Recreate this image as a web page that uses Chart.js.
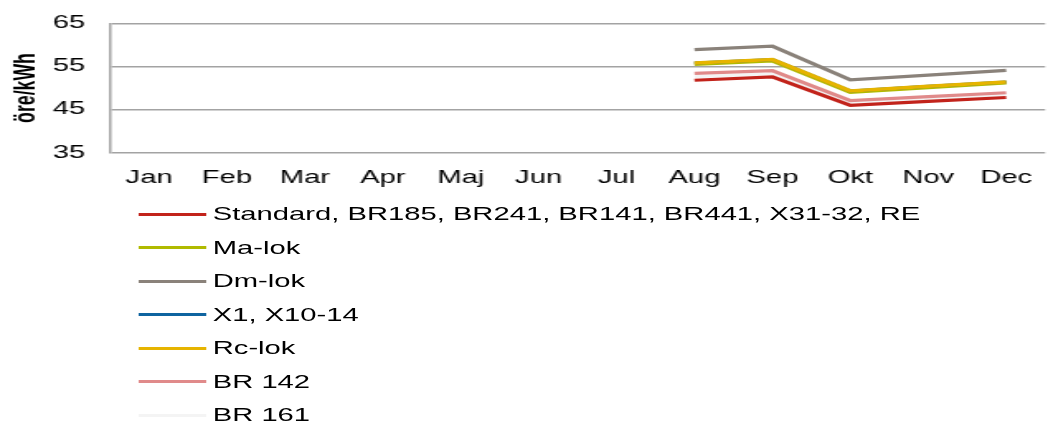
<!DOCTYPE html>
<html>
<head>
<meta charset="utf-8">
<script src="https://cdn.jsdelivr.net/npm/chart.js@4"></script>
<style>
  body { margin: 0; background: #fff; overflow: hidden; }
  /* the original picture is stretched sideways, so draw narrow and stretch */
  #wrap { width: 635px; height: 426px; transform: scaleX(1.6504); transform-origin: 0 0; }
  #box { position: relative; width: 635px; height: 195px; }
  #legend { font-family: "Liberation Sans", Arial, sans-serif; font-size: 17.7px; color: #000; }
  .item { position: absolute; left: 0; height: 20px; }
  .swatch { position: absolute; left: 84.4px; width: 40.9px; height: 3px; }
  .lbl { position: absolute; left: 128.9px; top: -11px; white-space: nowrap; line-height: 22px; }
</style>
</head>
<body>
<div id="wrap">
  <div id="box"><canvas id="grafik"></canvas></div>
  <div id="legend"></div>
</div>
<script>
const maaned = ['Jan', 'Feb', 'Mar', 'Apr', 'Maj', 'Jun', 'Jul', 'Aug', 'Sep', 'Okt', 'Nov', 'Dec'];

// öre/kWh, only Aug-Dec have values
const standard = [null, null, null, null, null, null, null, 51.8, 52.6, 46.0, 46.9, 47.8];
const maLok    = [null, null, null, null, null, null, null, 55.5, 56.3, 49.0, 50.1, 51.2];
const dmLok    = [null, null, null, null, null, null, null, 58.9, 59.7, 51.9, 53.0, 54.1];
const x1       = [null, null, null, null, null, null, null, 55.8, 56.6, 49.3, 50.4, 51.4];
const rcLok    = [null, null, null, null, null, null, null, 55.8, 56.6, 49.3, 50.4, 51.4];
const br142    = [null, null, null, null, null, null, null, 53.4, 54.0, 47.1, 48.0, 48.9];
const br161    = [null, null, null, null, null, null, null, 52.6, 53.3, 46.5, 47.4, 48.3];

const namaSeri = ['Standard, BR185, BR241, BR141, BR441, X31-32, RE', 'Ma-lok', 'Dm-lok',
  'X1, X10-14', 'Rc-lok', 'BR 142', 'BR 161'];
const nilaiSeri = [standard, maLok, dmLok, x1, rcLok, br142, br161];
const warnaSeri = ['#c2231b', '#b0ba00', '#8a827a', '#0f64a0', '#e6b400', '#e08a8a', '#f4f4f4'];
const lebarGaris = [3.2, 3.5, 3.2, 3, 3.5, 3.2, 3];

const fontTeks = "'Liberation Sans', Arial, sans-serif";

const datasets = namaSeri.map((nama, i) => ({
    label: nama,
    data: nilaiSeri[i],
    borderColor: warnaSeri[i],
    backgroundColor: warnaSeri[i],
    borderWidth: lebarGaris[i],
    pointRadius: 0,
    tension: 0,
    fill: false,
    order: i === 4 ? 0 : (i === 1 ? 2 : 1)
}));

const ctx = document.getElementById('grafik').getContext('2d');
const grafik = new Chart(ctx, {
    type: 'line',
    data: { labels: maaned, datasets: datasets },
    options: {
        responsive: true,
        maintainAspectRatio: false,
        animation: false,
        layout: { padding: { top: 23.3, right: 0, bottom: 0, left: 0 } },
        plugins: { legend: { display: false }, tooltip: { enabled: false } },
        scales: {
            x: {
                offset: true,
                grid: { display: false, drawTicks: false },
                border: { display: false },
                ticks: { color: '#000', padding: 15, font: { family: fontTeks, size: 17.7 }, maxRotation: 0 },
                afterFit: (s) => {
                    s.height = 195 - 152.7;
                    s.paddingLeft = 0;
                    s.paddingRight = 0;
                }
            },
            y: {
                min: 35,
                max: 65,
                ticks: { stepSize: 10, color: '#000', padding: 15, font: { family: fontTeks, size: 17.7 } },
                grid: { color: '#a3a3a3', lineWidth: 1.5, drawTicks: false },
                border: { display: true, color: '#a3a3a3', width: 1.5 },
                title: {
                    display: true,
                    text: 'öre/kWh',
                    color: '#000',
                    padding: { top: 5, bottom: 0 },
                    font: { family: fontTeks, size: 17.7, weight: 'bold' }
                },
                afterFit: (s) => {
                    s.width = 66.7;
                    // jangan biarkan padding label menggeser area grafik
                    s.paddingTop = 0;
                    s.paddingBottom = 0;
                }
            }
        }
    }
});

// legenda satu baris per seri
const legendElem = document.getElementById('legend');
namaSeri.forEach((nama, i) => {
    const item = document.createElement('div');
    item.className = 'item';
    item.style.top = (214.3 + i * 33.5) + 'px';
    const garis = document.createElement('div');
    garis.className = 'swatch';
    garis.style.top = '-1.5px';
    garis.style.background = warnaSeri[i];
    const teks = document.createElement('div');
    teks.className = 'lbl';
    teks.textContent = nama;
    item.appendChild(garis);
    item.appendChild(teks);
    legendElem.appendChild(item);
});
</script>
</body>
</html>
